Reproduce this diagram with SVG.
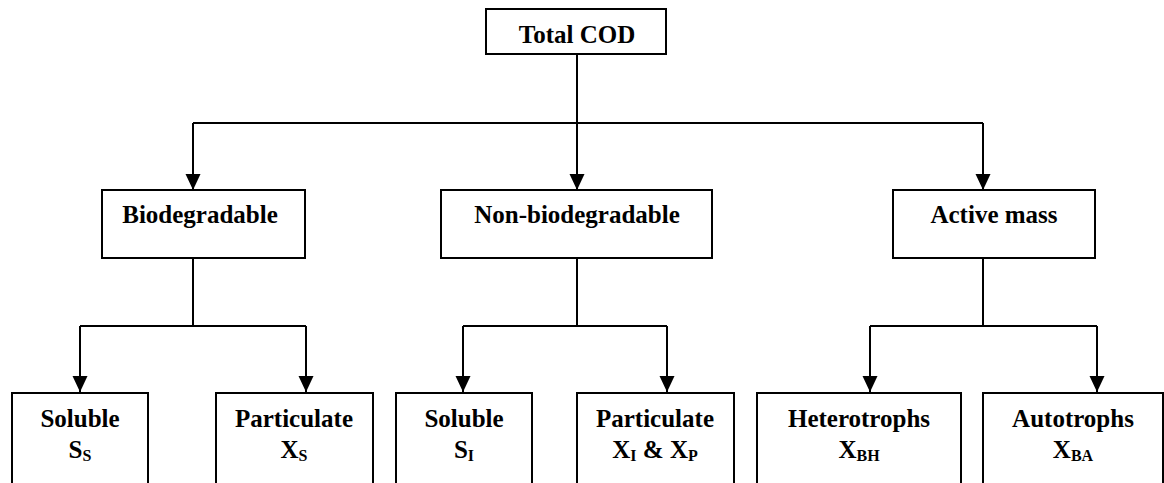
<svg xmlns="http://www.w3.org/2000/svg" width="1164" height="483" viewBox="0 0 1164 483">
<style>
.box{fill:#fff;stroke:#000;stroke-width:2}
.t{font-family:"Liberation Serif","Times New Roman",serif;font-weight:bold;font-size:25px;fill:#000;text-anchor:middle}
.sub{font-size:16px}
.c{fill:none;stroke:#000;stroke-width:2}
</style>
<defs>
<marker id="ah" markerUnits="userSpaceOnUse" markerWidth="17" markerHeight="17" viewBox="0 0 17 17" refX="16" refY="8.5" orient="auto">
<path d="M0,1 L16,8.5 L0,16 Z" fill="#000"/>
</marker>
</defs>
<g id="connectors">
<path class="c" d="M577,54 V123"/>
<path class="c" d="M193,123 H983"/>
<path class="c" d="M193,123 V190" marker-end="url(#ah)"/>
<path class="c" d="M577,123 V190" marker-end="url(#ah)"/>
<path class="c" d="M983,123 V190" marker-end="url(#ah)"/>
<path class="c" d="M193,258 V326 M80,326 H306"/>
<path class="c" d="M80,326 V392" marker-end="url(#ah)"/>
<path class="c" d="M306,326 V392" marker-end="url(#ah)"/>
<path class="c" d="M577,258 V326 M463,326 H667"/>
<path class="c" d="M463,326 V392" marker-end="url(#ah)"/>
<path class="c" d="M667,326 V392" marker-end="url(#ah)"/>
<path class="c" d="M983,258 V326 M870,326 H1097"/>
<path class="c" d="M870,326 V392" marker-end="url(#ah)"/>
<path class="c" d="M1097,326 V392" marker-end="url(#ah)"/>
</g>
<g id="total">
<rect class="box" x="486" y="9" width="180" height="45"/>
<text class="t" x="577" y="43">Total COD</text>
</g>
<g id="biodegradable">
<rect class="box" x="102" y="190" width="203" height="68"/>
<text class="t" x="200" y="223">Biodegradable</text>
</g>
<g id="nonbiodegradable">
<rect class="box" x="441" y="190" width="271" height="68"/>
<text class="t" x="577" y="223">Non-biodegradable</text>
</g>
<g id="activemass">
<rect class="box" x="893" y="190" width="202" height="68"/>
<text class="t" x="994" y="223">Active mass</text>
</g>
<g id="soluble-ss">
<rect class="box" x="12" y="393" width="136" height="100"/>
<text class="t" x="80" y="427">Soluble</text>
<text class="t" x="80" y="458">S<tspan class="sub" dy="3">S</tspan></text>
</g>
<g id="particulate-xs">
<rect class="box" x="216" y="393" width="157" height="100"/>
<text class="t" x="294" y="427">Particulate</text>
<text class="t" x="294" y="458">X<tspan class="sub" dy="3">S</tspan></text>
</g>
<g id="soluble-si">
<rect class="box" x="396" y="393" width="136" height="100"/>
<text class="t" x="464" y="427">Soluble</text>
<text class="t" x="464" y="458">S<tspan class="sub" dy="3">I</tspan></text>
</g>
<g id="particulate-xi-xp">
<rect class="box" x="577" y="393" width="157" height="100"/>
<text class="t" x="655" y="427">Particulate</text>
<text class="t" x="655" y="458">X<tspan class="sub" dy="3">I</tspan><tspan dy="-3"> &amp; X</tspan><tspan class="sub" dy="3">P</tspan></text>
</g>
<g id="heterotrophs">
<rect class="box" x="757" y="393" width="204" height="100"/>
<text class="t" x="859" y="427">Heterotrophs</text>
<text class="t" x="859" y="458">X<tspan class="sub" dy="3">BH</tspan></text>
</g>
<g id="autotrophs">
<rect class="box" x="983" y="393" width="180" height="100"/>
<text class="t" x="1073" y="427">Autotrophs</text>
<text class="t" x="1073" y="458">X<tspan class="sub" dy="3">BA</tspan></text>
</g>
</svg>
